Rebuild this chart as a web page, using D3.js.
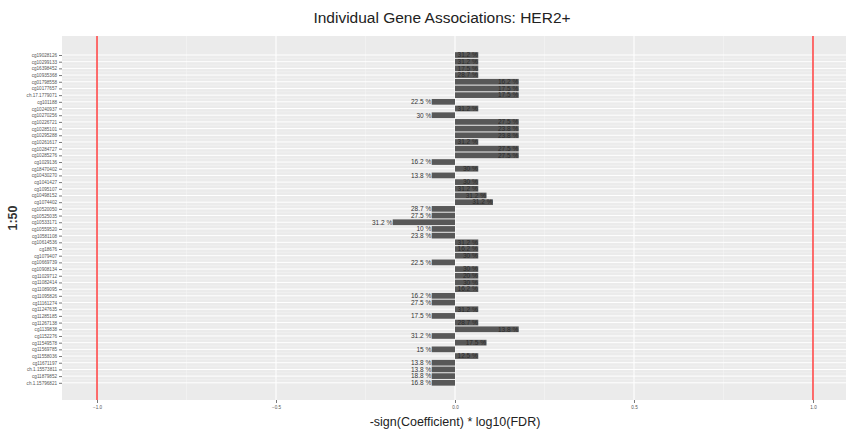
<!DOCTYPE html>
<html>
<head>
<meta charset="utf-8">
<script src="https://cdn.jsdelivr.net/npm/d3@7"></script>
<style>
  html, body { margin: 0; padding: 0; background: #ffffff; }
  svg { display: block; font-family: "Liberation Sans", Arial, sans-serif; }
</style>
</head>
<body>
<svg id="chart" width="846" height="435"></svg>
<script>
// Probe identifiers, top to bottom
const probes = [
  "cg19028126", "cg10299133", "cg16398452", "cg10935368", "cg01798558",
  "cg10177657", "ch.17.1779071", "cg101188", "cg10240937", "cg10270256",
  "cg10226721", "cg10285101", "cg10295288", "cg10261617", "cg10284727",
  "cg10285276", "cg1029136", "cg18470402", "cg10430270", "cg1041427",
  "cg1095107", "cg10498152", "cg1074402", "cg10520050", "cg10525035",
  "cg10533171", "cg10559520", "cg10581108", "cg10614536", "cg18676",
  "cg1079407", "cg10669739", "cg10908134", "cg11029712", "cg11082414",
  "cg11089095", "cg11095826", "cg11161274", "cg11247635", "cg11285185",
  "cg11267138", "cg1139838", "cg1152276", "cg11549578", "cg11569785",
  "cg11558036", "cg11671197", "ch.1.15573811", "cg11879852", "ch.1.15796821"
];

// -sign(Coefficient) * log10(FDR) for each probe
const scores = [
   0.065,  0.065,  0.065,  0.065,  0.178,
   0.178,  0.178, -0.065,  0.065, -0.065,
   0.178,  0.178,  0.178,  0.065,  0.178,
   0.178, -0.065,  0.065, -0.065,  0.065,
   0.065,  0.088,  0.106, -0.065, -0.065,
  -0.174, -0.065, -0.065,  0.065,  0.065,
   0.065, -0.065,  0.065,  0.065,  0.065,
   0.065, -0.065, -0.065,  0.065, -0.065,
   0.065,  0.178, -0.065,  0.088, -0.065,
   0.065, -0.065, -0.065, -0.065, -0.065
];

// Percentage annotation printed at the end of each bar
const pctLabels = [
  "31.2 %", "31.2 %", "17.5 %", "28.7 %", "16.2 %",
  "17.5 %", "17.5 %", "22.5 %", "31.2 %", "30 %",
  "27.5 %", "23.8 %", "23.8 %", "31.2 %", "27.5 %",
  "27.5 %", "16.2 %", "30 %", "13.8 %", "30 %",
  "31.2 %", "31.2 %", "31.2 %", "28.7 %", "27.5 %",
  "31.2 %", "10 %", "23.8 %", "31.2 %", "16.2 %",
  "30 %", "22.5 %", "30 %", "20 %", "30 %",
  "16.2 %", "16.2 %", "27.5 %", "31.2 %", "17.5 %",
  "28.7 %", "13.8 %", "31.2 %", "17.5 %", "15 %",
  "12.5 %", "13.8 %", "13.8 %", "18.8 %", "16.8 %"
];

const xTicks = [-1.0, -0.5, 0.0, 0.5, 1.0];
const xMinor = [-0.75, -0.25, 0.25, 0.75];
const thresholds = [-1.0, 1.0];

const svg = d3.select("#chart");
const panel = { left: 62, right: 846, top: 36, bottom: 400 };

const x = d3.scaleLinear().domain([-1.0978, 1.0922]).range([panel.left, panel.right]);
const rows = d3.range(1, probes.length + 1);
const y = d3.scaleLinear().domain([1, 50]).range([55, 382.8]);
const rowStep = y(2) - y(1);

// title
svg.append("text")
  .attr("x", 442).attr("y", 23)
  .attr("text-anchor", "middle")
  .attr("font-size", 15.5)
  .attr("fill", "#222")
  .text("Individual Gene Associations: HER2+");

// panel background
svg.append("rect")
  .attr("x", panel.left).attr("y", panel.top)
  .attr("width", panel.right - panel.left).attr("height", panel.bottom - panel.top)
  .attr("fill", "#ebebeb");

const grid = svg.append("g");
// vertical gridlines
grid.selectAll("line.vmin").data(xMinor).join("line")
  .attr("x1", d => x(d)).attr("x2", d => x(d))
  .attr("y1", panel.top).attr("y2", panel.bottom)
  .attr("stroke", "#f5f5f5").attr("stroke-width", 0.6);
grid.selectAll("line.vmaj").data(xTicks).join("line")
  .attr("x1", d => x(d)).attr("x2", d => x(d))
  .attr("y1", panel.top).attr("y2", panel.bottom)
  .attr("stroke", "#ffffff").attr("stroke-width", 1.1);
// horizontal gridlines, one per row
grid.selectAll("line.h").data(rows).join("line")
  .attr("x1", panel.left).attr("x2", panel.right)
  .attr("y1", d => y(d)).attr("y2", d => y(d))
  .attr("stroke", "#ffffff").attr("stroke-width", 1);
grid.selectAll("line.hm").data(rows.slice(0, -1)).join("line")
  .attr("x1", panel.left).attr("x2", panel.right)
  .attr("y1", d => y(d + 0.5)).attr("y2", d => y(d + 0.5))
  .attr("stroke", "#f4f4f4").attr("stroke-width", 0.5);

// bars
const barH = rowStep * 0.85;
svg.append("g").selectAll("rect").data(scores).join("rect")
  .attr("x", d => Math.min(x(0), x(d)))
  .attr("width", d => Math.abs(x(d) - x(0)))
  .attr("y", (d, i) => y(i + 1) - barH / 2)
  .attr("height", barH)
  .attr("fill", "#585858");

// percentage labels, right-aligned at the bar end
svg.append("g").selectAll("text").data(scores).join("text")
  .attr("x", d => x(d) - 0.5)
  .attr("y", (d, i) => y(i + 1) + 2.3)
  .attr("text-anchor", "end")
  .attr("font-size", 6.5)
  .attr("fill", d => d > 0 ? "#2a2a2a" : "#333")
  .text((d, i) => pctLabels[i]);

// significance thresholds
svg.append("g").selectAll("line").data(thresholds).join("line")
  .attr("x1", d => x(d)).attr("x2", d => x(d))
  .attr("y1", panel.top).attr("y2", panel.bottom)
  .attr("stroke", "#ff2020").attr("stroke-width", 1.3);

// y axis
const yAxis = svg.append("g")
  .attr("transform", `translate(${panel.left},0)`)
  .call(d3.axisLeft(y).tickValues(rows).tickFormat(d => probes[d - 1]).tickSize(3).tickPadding(2));
yAxis.select(".domain").remove();
yAxis.selectAll("line").attr("stroke", "#555").attr("stroke-width", 0.8);
yAxis.selectAll("text").attr("font-size", 4.6).attr("fill", "#555").attr("font-family", "Liberation Sans, Arial, sans-serif");

// x axis
const xAxis = svg.append("g")
  .attr("transform", `translate(0,${panel.bottom})`)
  .call(d3.axisBottom(x).tickValues(xTicks).tickFormat(d3.format(".1f")).tickSize(3).tickPadding(3));
xAxis.select(".domain").remove();
xAxis.selectAll("line").attr("stroke", "#555").attr("stroke-width", 0.8);
xAxis.selectAll("text").attr("font-size", 4.6).attr("fill", "#555").attr("font-family", "Liberation Sans, Arial, sans-serif");

// axis titles
svg.append("text")
  .attr("x", x(0)).attr("y", 426)
  .attr("text-anchor", "middle")
  .attr("font-size", 12.5)
  .attr("fill", "#222")
  .text("-sign(Coefficient) * log10(FDR)");

svg.append("text")
  .attr("transform", `translate(17,${(panel.top + panel.bottom) / 2}) rotate(-90)`)
  .attr("text-anchor", "middle")
  .attr("font-size", 12.5)
  .attr("font-weight", "bold")
  .attr("fill", "#333")
  .text("1:50");
</script>
</body>
</html>
